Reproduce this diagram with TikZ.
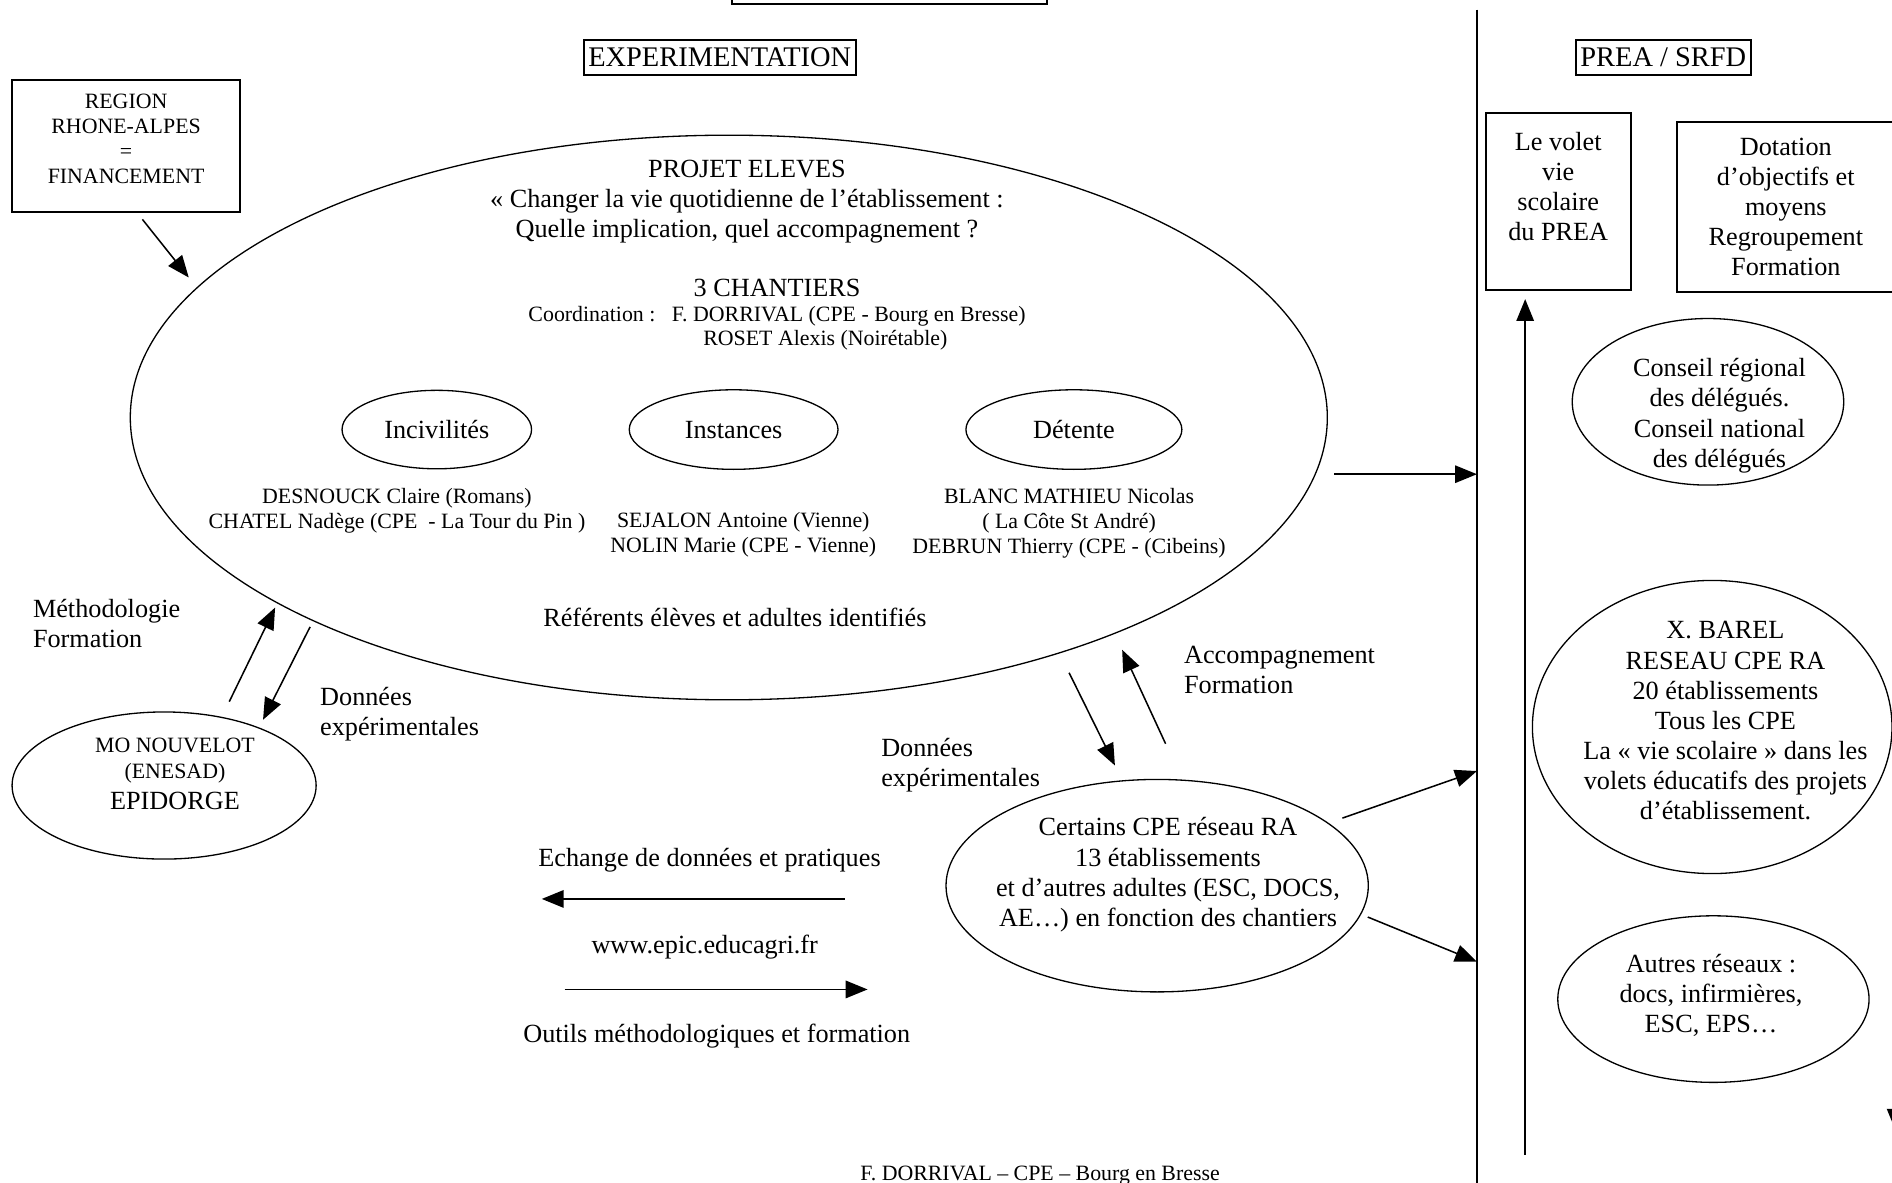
\documentclass[tikz,border=0pt]{standalone}
\usepackage{fontspec}
\setmainfont{Liberation Serif}
\usetikzlibrary{shapes.geometric,arrows.meta,calc}

\newcommand{\petittexte}{\fontsize{10}{11.4}\selectfont}

\tikzstyle{bulle}=[ellipse,draw,line width=0.6pt,inner sep=0pt]
\tikzstyle{cadre}=[rectangle,draw,line width=0.9pt,align=center,inner sep=0pt]
\tikzstyle{titre}=[rectangle,draw,line width=0.9pt,inner xsep=2pt,minimum height=16pt,font=\fontsize{13}{15}\selectfont]
\tikzstyle{txt}=[align=center,inner sep=0pt,font=\fontsize{12}{13.8}\selectfont]
\tikzstyle{petit}=[align=center,inner sep=0pt,font=\petittexte]
\tikzstyle{fleche}=[draw,line width=0.7pt]

\begin{document}
\begin{tikzpicture}[x=0.552pt, y=-0.552pt, ->, >={Triangle[length=10pt,width=8pt]}]
	\useasboundingbox (0,0) rectangle (1568,980);

	% titres
	\node [titre, minimum width=144.1pt, minimum height=22.1pt] (bandeau) at (737.5,-16.5) {};
	\node [titre] (exper) at (596.5,47.5) {EXPERIMENTATION};
	\node [titre] (prea)  at (1378.5,47.5) {PREA / SRFD};

	\coordinate (sep)    at (1224,8);
	\coordinate (sepbas) at (1224,990);
	\draw [-, line width=0.9pt] (sep) -- (sepbas);

	% financement
	\node [cadre, petit, minimum width=104.3pt, minimum height=60.7pt] (region) at (104.5,121) {REGION\\RHONE-ALPES\\=\\FINANCEMENT\\[-5pt]~};

	% projet eleves
	\node [bulle, minimum width=547.6pt, minimum height=258.3pt] (projet) at (604,346) {};
	\node [txt]   (projet-t)  at (619,167) {PROJET ELEVES\\« Changer la vie quotidienne de l’établissement :\\Quelle implication, quel accompagnement ?};
	\node [txt]   (chantiers) at (644,239) {3 CHANTIERS};
	\node [petit] (coord)     at (644,262) {Coordination :~~~F. DORRIVAL (CPE - Bourg en Bresse)};
	\node [petit] (roset)     at (684,282) {ROSET Alexis (Noirétable)};
	\node [bulle, txt, minimum width=86.7pt, minimum height=35.9pt] (inciv)   at (362,356) {Incivilités};
	\node [bulle, txt, minimum width=95.5pt, minimum height=36.4pt] (inst)    at (608,356) {Instances};
	\node [bulle, txt, minimum width=98.8pt, minimum height=36.4pt] (detente) at (890,356) {Détente};
	\node [petit] (inciv-n)   at (329,423) {DESNOUCK Claire (Romans)\\CHATEL Nadège (CPE~~- La Tour du Pin )};
	\node [petit] (inst-n)    at (616,443.5) {SEJALON Antoine (Vienne)\\NOLIN Marie (CPE - Vienne)};
	\node [petit] (detente-n) at (886,433.5) {BLANC MATHIEU Nicolas\\( La Côte St André)\\DEBRUN Thierry (CPE - (Cibeins)};
	\node [txt]   (referents) at (609,512) {Référents élèves et adultes identifiés};

	% epidorge
	\node [bulle, minimum width=139.1pt, minimum height=67.3pt] (mo) at (136,651) {};
	\node [txt] (mo-t) at (145,641) {{\petittexte MO NOUVELOT}\\[-1.5pt]{\petittexte (ENESAD)}\\EPIDORGE};
	\node [txt, anchor=west, align=left] (metho)      at (27,517) {Méthodologie\\Formation};
	\node [txt, anchor=west, align=left] (donnees-mo) at (265,592) {Données\\expérimentales};

	% reseau RA
	\node [bulle, minimum width=193.2pt, minimum height=97.2pt] (certains) at (959,734) {};
	\node [txt] (certains-t) at (968,725) {Certains CPE réseau RA\\13 établissements\\et d’autres adultes (ESC, DOCS,\\AE…) en fonction des chantiers};
	\node [txt, anchor=west, align=left] (donnees-ra) at (730,634) {Données\\expérimentales};
	\node [txt, anchor=west, align=left] (accomp)     at (981,555) {Accompagnement\\Formation};

	% site
	\node [txt] (echange) at (588,713) {Echange de données et pratiques};
	\node [txt] (www)     at (584,785) {www.epic.educagri.fr};
	\node [txt] (outils)  at (594,859) {Outils méthodologiques et formation};
	\coordinate (e1) at (700,745);
	\coordinate (e2) at (449,745);
	\coordinate (o1) at (468,820);
	\coordinate (o2) at (719,820);

	% PREA / SRFD
	\node [cadre, txt, minimum width=66.2pt, minimum height=80.6pt] (volet)    at (1291.4,167) {Le volet\\vie\\scolaire\\du PREA\\~};
	\node [cadre, txt, minimum width=99.4pt, minimum height=77.8pt] (dotation) at (1480,171.5) {Dotation\\d’objectifs et\\moyens\\Regroupement\\Formation};
	\node [bulle, minimum width=124.2pt, minimum height=76.2pt] (conseil) at (1415.5,333) {};
	\node [txt] (conseil-t) at (1425,344.5) {Conseil régional\\des délégués.\\Conseil national\\des délégués};
	\node [bulle, minimum width=164.5pt, minimum height=134.1pt] (barel) at (1419,602.5) {};
	\node [txt] (barel-t) at (1430,597.5) {X. BAREL\\RESEAU CPE RA\\20 établissements\\Tous les CPE\\La « vie scolaire » dans les\\volets éducatifs des projets\\d’établissement.};
	\node [bulle, minimum width=142.4pt, minimum height=76.2pt] (autres) at (1420,828) {};
	\node [txt] (autres-t) at (1418,825) {Autres réseaux :\\docs, infirmières,\\ESC, EPS…};
	\coordinate (vbas) at (1264,957);
	\coordinate (bd1)  at (1571,880);
	\coordinate (bd2)  at (1571,937);

	\node [petit] (auteur) at (862,974) {F. DORRIVAL – CPE – Bourg en Bresse};

	% fleches
	\coordinate (p1) at ($(projet.east)+(5,47)$);
	\draw [fleche] ($(region.south)+(13.5,5)$) -- ($(projet.west)+(49,-116)$);
	\draw [fleche] ($(mo.north)+(54,-8)$) -- ($(projet.south)+(-376,-77)$);
	\draw [fleche] ($(projet.south)+(-347,-61)$) -- ($(mo.north)+(82,7)$);
	\draw [fleche] ($(projet.south)+(282,-23)$) -- ($(certains.north)+(-35,-11)$);
	\draw [fleche] ($(certains.north)+(7,-29)$) -- ($(projet.south)+(326,-42)$);
	\draw [fleche] (p1) -- (p1 -| sep);
	\draw [fleche] ($(certains.east)+(-22,-56)$) -- ($(sep)+(0,631)$);
	\draw [fleche] ($(certains.east)+(-1,26)$) -- ($(sep)+(0,789)$);
	\draw [fleche] (e1) -- (e2);
	\draw [fleche] (o1) -- (o2);
	\draw [fleche, shorten >=3.9pt] (vbas) -- (vbas |- volet.south);
	\draw [fleche] (bd1) -- (bd2);
\end{tikzpicture}
\end{document}
